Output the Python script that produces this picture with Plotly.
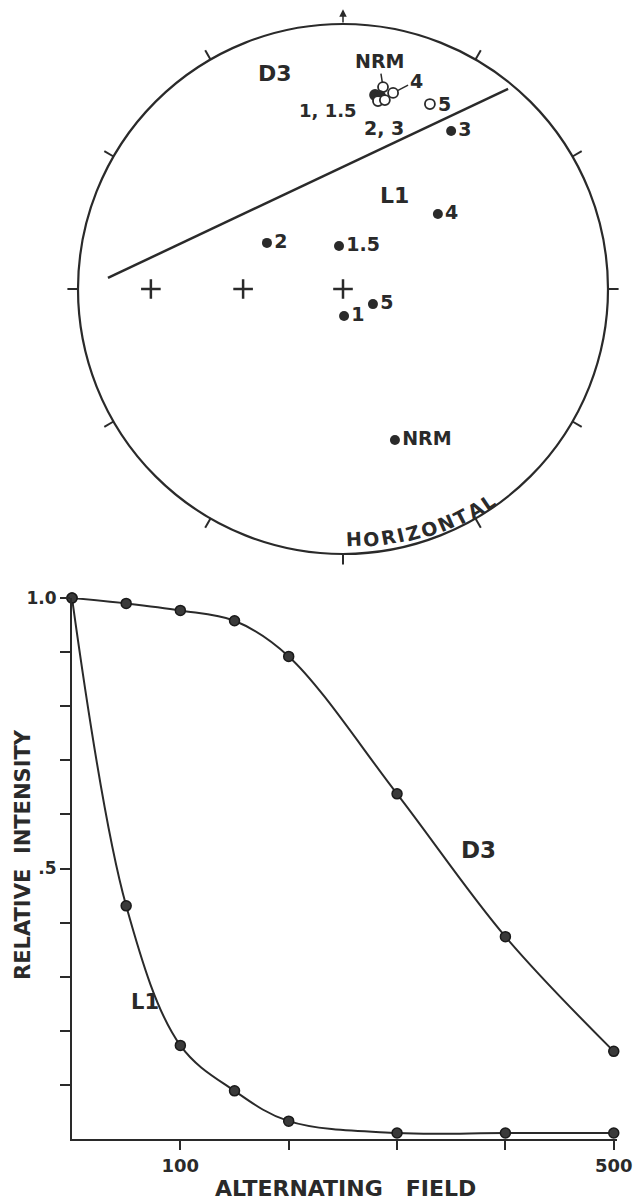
import math
import plotly.graph_objects as go

# ---------------- Bottom chart data (AF demagnetization) ----------------
FIELD = [0, 50, 100, 150, 200, 300, 400, 500]
D3_INT = [1.0, 0.99, 0.977, 0.958, 0.892, 0.638, 0.374, 0.162]
L1_INT = [1.0, 0.431, 0.173, 0.089, 0.033, 0.011, 0.011, 0.011]

X_TICKVALS = [100, 200, 300, 400, 500]
X_TICKTEXT = ["100", "", "", "", "500"]
Y_TICKVALS = [0.1, 0.2, 0.3, 0.4, 0.5, 0.6, 0.7, 0.8, 0.9, 1.0]
Y_TICKTEXT = ["", "", "", "", ".5", "", "", "", "", "1.0"]

# ---------------- Stereonet data (projected east / north, unit circle) ----------------
L1_LABELS = ["NRM", "1", "1.5", "2", "3", "4", "5"]
L1_E = [0.196, 0.004, -0.015, -0.287, 0.408, 0.358, 0.113]
L1_N = [-0.570, -0.102, 0.162, 0.174, 0.596, 0.283, -0.057]

D3_LABELS = ["NRM", "1", "1.5", "2", "3", "4", "5"]
D3_E = [0.151, 0.121, 0.140, 0.132, 0.158, 0.189, 0.328]
D3_N = [0.762, 0.732, 0.728, 0.709, 0.713, 0.740, 0.698]
D3_FILLED = [False, True, True, False, False, False, False]

PLANE_E = [-0.887, 0.623]
PLANE_N = [0.042, 0.755]

CROSS_E = [-0.725, -0.377, 0.0]
CROSS_N = [0.0, 0.0, 0.0]

TICK_ANGLES = [30, 60, 90, 120, 150, 180, 210, 240, 270, 300, 330]
RIM_WORD = "HORIZONTAL"
# DejaVu Sans Bold advance widths (em) for the rim word letters
GLYPH_EM = {"H": 0.837, "O": 0.850, "R": 0.770, "I": 0.372, "Z": 0.725,
            "N": 0.837, "T": 0.682, "A": 0.774, "L": 0.637}

INK = "#2a2a2a"
FONT = dict(family="DejaVu Sans", color=INK, weight="bold")
W, H = 643, 1200
OFF = 8  # page body margin: the figure is drawn 8 px right of / below the window corner


def xp(px):
    return (px - OFF) / W


def yp(py):
    return 1 - (py - OFF) / H


def f(size):
    d = dict(FONT)
    d["size"] = size
    return d


fig = go.Figure()

# ---- bottom chart traces ----
for series in (D3_INT, L1_INT):
    fig.add_trace(go.Scatter(
        x=FIELD, y=series, mode="lines+markers",
        line=dict(color=INK, width=2, shape="spline", smoothing=1.0),
        marker=dict(size=10, color="#3a3a3a", line=dict(color="#1a1a1a", width=1.5)),
        cliponaxis=False, xaxis="x", yaxis="y", showlegend=False))

# ---- stereonet: rim ticks ----
tx, ty = [], []
for a in TICK_ANGLES:
    r = math.radians(a)
    tx += [math.sin(r), 1.04 * math.sin(r), None]
    ty += [math.cos(r), 1.04 * math.cos(r), None]
fig.add_trace(go.Scatter(x=tx, y=ty, mode="lines", line=dict(color=INK, width=2),
                         xaxis="x2", yaxis="y2", showlegend=False, hoverinfo="skip"))

# great-circle trace
fig.add_trace(go.Scatter(x=PLANE_E, y=PLANE_N, mode="lines", line=dict(color=INK, width=2.5),
                         xaxis="x2", yaxis="y2", showlegend=False))

# crosses
fig.add_trace(go.Scatter(x=CROSS_E, y=CROSS_N, mode="markers",
                         marker=dict(symbol="cross-thin", size=14, line=dict(color=INK, width=2.5)),
                         xaxis="x2", yaxis="y2", showlegend=False))

# L1 directions (filled)
fig.add_trace(go.Scatter(x=L1_E, y=L1_N, mode="markers+text", text=L1_LABELS,
                         textposition="middle right", textfont=f(19),
                         marker=dict(size=10, color=INK),
                         cliponaxis=False, xaxis="x2", yaxis="y2", showlegend=False))

# D3 directions (open except filled ones)
fig.add_trace(go.Scatter(
    x=D3_E, y=D3_N, mode="markers",
    marker=dict(size=10,
                color=[INK if fl else "white" for fl in D3_FILLED],
                line=dict(color=INK, width=1.8)),
    xaxis="x2", yaxis="y2", showlegend=False))

ann = []
# D3 labels
ann.append(dict(x=D3_E[0], y=D3_N[0], xref="x2", yref="y2", text=D3_LABELS[0], showarrow=True,
                arrowhead=0, arrowwidth=1.5, arrowcolor=INK, ax=-4, ay=-26, standoff=5, font=f(19)))
ann.append(dict(x=D3_E[5], y=D3_N[5], xref="x2", yref="y2", text=D3_LABELS[5], showarrow=True,
                arrowhead=0, arrowwidth=1.5, arrowcolor=INK, ax=23, ay=-12, standoff=5, font=f(19)))
ann.append(dict(x=0.060, y=0.675, xref="x2", yref="y2", text="1, 1.5", showarrow=False,
                xanchor="right", yanchor="middle", font=f(18)))
ann.append(dict(x=0.072, y=0.608, xref="x2", yref="y2", text="2, 3", showarrow=False,
                xanchor="left", yanchor="middle", font=f(19)))
ann.append(dict(x=D3_E[6], y=D3_N[6], xref="x2", yref="y2", text=D3_LABELS[6], showarrow=False,
                xanchor="left", xshift=6, font=f(19)))
ann.append(dict(x=-0.257, y=0.815, xref="x2", yref="y2", text="D3", showarrow=False, font=f(22)))
ann.append(dict(x=0.196, y=0.351, xref="x2", yref="y2", text="L1", showarrow=False, font=f(22)))

# north arrow
ann.append(dict(x=0, y=1.056, xref="x2", yref="y2", ax=0, ay=1.0, axref="x2", ayref="y2",
                text="", showarrow=True, arrowhead=2, arrowsize=1, arrowwidth=1.5, arrowcolor=INK))

# curved rim word, letters spaced by glyph width along the arc
rim_size = 19
rim_r_px = 250.0
gap_px = 1.5
widths = [GLYPH_EM[c] * rim_size + gap_px for c in RIM_WORD]
start_deg = 0.5
pos = 0.0
for ch, wpx in zip(RIM_WORD, widths):
    centre = pos + wpx / 2
    th = start_deg + math.degrees(centre / rim_r_px)
    pos += wpx
    t = math.radians(th)
    rr = (rim_r_px + 0.25 * (th - 2)) / 265.0
    ann.append(dict(x=rr * math.sin(t), y=-rr * math.cos(t), xref="x2", yref="y2", text=ch,
                    showarrow=False, textangle=-th, font=f(rim_size)))

# bottom chart curve labels
ann.append(dict(x=375, y=0.534, xref="x", yref="y", text="D3", showarrow=False, font=f(23)))
ann.append(dict(x=67, y=0.253, xref="x", yref="y", text="L1", showarrow=False, font=f(21)))

# axis titles
ann.append(dict(x=xp(23), y=yp(855), xref="paper", yref="paper", text="RELATIVE  INTENSITY",
                xanchor="center", yanchor="middle",
                showarrow=False, textangle=-90, font=f(21)))
ann.append(dict(x=xp(345), y=yp(1188), xref="paper", yref="paper", text="ALTERNATING   FIELD",
                xanchor="center", yanchor="middle",
                showarrow=False, font=f(22)))

shapes = [dict(type="circle", xref="x2", yref="y2", x0=-1, y0=-1, x1=1, y1=1,
               line=dict(color=INK, width=2.2))]

axis_common = dict(showgrid=False, zeroline=False, showline=True, linecolor=INK, linewidth=2,
                   ticks="outside", tickcolor=INK, tickwidth=2, automargin=False)

# stereonet centre in window pixels (343, 289), radius 265 px
CX, CY, R_PX = 343 - OFF, 289 - OFF, 265.0
TOP_BOTTOM_PX = 580

fig.update_layout(
    width=W, height=H,
    margin=dict(l=0, r=0, t=0, b=0, autoexpand=False),
    paper_bgcolor="white", plot_bgcolor="white",
    showlegend=False,
    xaxis=dict(domain=[xp(72), xp(617)], range=[0, 503], anchor="y",
               tickvals=X_TICKVALS, ticktext=X_TICKTEXT, ticklen=9, tickfont=f(18), **axis_common),
    yaxis=dict(domain=[yp(1139), yp(598)], range=[0, 1.0], anchor="x",
               tickvals=Y_TICKVALS, ticktext=Y_TICKTEXT, ticklen=10, tickfont=f(17), **axis_common),
    xaxis2=dict(domain=[0, 1], range=[-CX / R_PX, (W - CX) / R_PX], visible=False, anchor="y2"),
    yaxis2=dict(domain=[1 - TOP_BOTTOM_PX / H, 1],
                range=[-(TOP_BOTTOM_PX - CY) / R_PX, CY / R_PX], visible=False, anchor="x2"),
    annotations=ann,
    shapes=shapes,
)

fig.write_html("out.html")
